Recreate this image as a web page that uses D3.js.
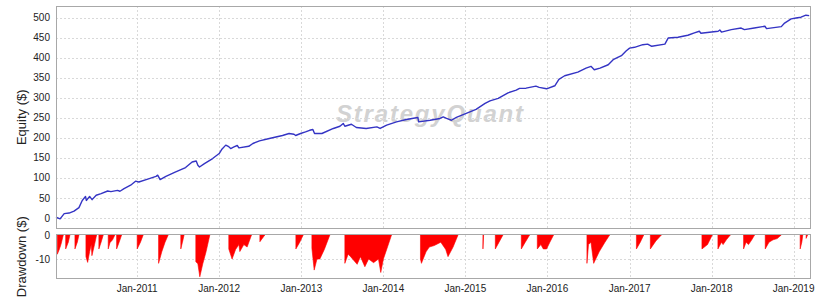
<!DOCTYPE html>
<html>
<head>
<meta charset="utf-8">
<script src="https://cdn.jsdelivr.net/npm/d3@7"></script>
<style>
  html, body { margin: 0; padding: 0; background: #fff; }
  svg { display: block; font-family: 'Liberation Sans', Arial, sans-serif; }
</style>
</head>
<body>
<div id="chart"></div>
<script>
// Equity curve (decimal year, $)
const equityT = [2010.01, 2010.06, 2010.11, 2010.17, 2010.23, 2010.29, 2010.33, 2010.37, 2010.38, 2010.42,
  2010.45, 2010.50, 2010.56, 2010.64, 2010.68, 2010.76, 2010.79, 2010.84, 2010.92, 2010.98,
  2011.02, 2011.11, 2011.23, 2011.25, 2011.28, 2011.35, 2011.47, 2011.59, 2011.67, 2011.72,
  2011.74, 2011.76, 2011.82, 2011.92, 2012.00, 2012.03, 2012.08, 2012.11, 2012.14, 2012.18,
  2012.22, 2012.24, 2012.36, 2012.41, 2012.49, 2012.61, 2012.77, 2012.85, 2012.91, 2012.93,
  2012.99, 2013.05, 2013.10, 2013.14, 2013.16, 2013.25, 2013.39, 2013.47, 2013.51, 2013.53,
  2013.61, 2013.67, 2013.79, 2013.92, 2013.96, 2014.04, 2014.16, 2014.28, 2014.42, 2014.43,
  2014.57, 2014.69, 2014.73, 2014.77, 2014.83, 2014.89, 2015.01, 2015.13, 2015.24, 2015.30,
  2015.40, 2015.52, 2015.62, 2015.66, 2015.74, 2015.86, 2015.90, 2015.99, 2016.09, 2016.14,
  2016.21, 2016.37, 2016.47, 2016.53, 2016.57, 2016.64, 2016.74, 2016.80, 2016.90, 2016.96,
  2017.00, 2017.06, 2017.16, 2017.22, 2017.27, 2017.43, 2017.47, 2017.59, 2017.71, 2017.79,
  2017.85, 2017.87, 2018.00, 2018.08, 2018.10, 2018.12, 2018.24, 2018.36, 2018.40, 2018.52,
  2018.65, 2018.67, 2018.85, 2018.89, 2018.97, 2019.03, 2019.09, 2019.15, 2019.19];
const equityV = [2, -2, 11, 12.5, 17.5, 26, 44, 54, 44, 54,
  46, 57, 61, 67.5, 66, 69, 67, 73.5, 82, 92,
  90, 96, 104, 107, 96, 104, 115, 126, 140, 142.5,
  132, 127.5, 136, 148.5, 161, 171, 182, 179, 173.5, 177.5,
  181, 175, 179, 186, 192.5, 198.5, 206, 211, 209, 206,
  211, 215, 219, 221, 211, 211, 223.5, 229, 236, 229,
  234, 226, 223.5, 227.5, 223.5, 232, 240, 246, 251, 240,
  244, 248.5, 252.5, 248.5, 244, 251, 261, 271, 286, 292.5,
  298.5, 312.5, 319, 323.5, 324, 329, 326, 322.5, 330, 346,
  355, 364, 374, 378.5, 370, 374, 382.5, 395, 405, 417.5,
  424, 426, 432.5, 434, 428.5, 434, 449, 451, 456, 462,
  466, 461, 464, 466, 469, 464, 470, 474, 470, 474,
  478.5, 472.5, 477.5, 486.5, 497, 499, 501, 506, 505];

// Drawdown periods: [decimal year, drawdown $]
const drawdowns = [
  [[2010.026, -8], [2010.05, -6], [2010.07, -4], [2010.099, 0]],
  [[2010.128, -5.8], [2010.16, -3], [2010.18, 0]],
  [[2010.241, -5.8], [2010.27, -3], [2010.29, 0]],
  [[2010.375, -9], [2010.396, -11.4], [2010.42, -7], [2010.44, -4], [2010.448, -8.6], [2010.48, -4], [2010.505, 0]],
  [[2010.533, -5.8], [2010.56, -3], [2010.586, 0]],
  [[2010.647, -5.8], [2010.67, -3], [2010.68, -2.8], [2010.70, -2], [2010.728, 0]],
  [[2010.749, -5.8], [2010.78, -3], [2010.81, 0]],
  [[2011.00, -5.8], [2011.04, -3], [2011.073, 0]],
  [[2011.261, -11.8], [2011.30, -7], [2011.34, -3], [2011.378, 0]],
  [[2011.532, -5.8], [2011.552, -3], [2011.572, 0]],
  [[2011.715, -11.1], [2011.74, -12], [2011.764, -17.4], [2011.80, -12], [2011.84, -7], [2011.886, 0]],
  [[2012.117, -5.8], [2012.157, -10], [2012.20, -6], [2012.24, -4], [2012.251, -6.9], [2012.30, -4], [2012.34, -5], [2012.393, 0]],
  [[2012.495, -2.8], [2012.555, 0]],
  [[2012.933, -5.8], [2012.98, -3], [2013.022, 0]],
  [[2013.128, -5.5], [2013.156, -14.6], [2013.19, -10], [2013.225, -10], [2013.28, -6], [2013.347, 0]],
  [[2013.530, -11.8], [2013.57, -8], [2013.60, -9], [2013.68, -12.2], [2013.72, -9], [2013.774, -13.2], [2013.82, -10],
   [2013.88, -11.5], [2013.94, -10], [2013.968, -15.6], [2014.00, -10], [2014.05, -5], [2014.099, 0]],
  [[2014.452, -10], [2014.464, -11.8], [2014.52, -7], [2014.56, -5], [2014.62, -4.4], [2014.70, -3], [2014.76, -6],
   [2014.788, -9], [2014.85, -5], [2014.910, 0]],
  [[2015.214, -5.8], [2015.222, 0]],
  [[2015.365, -5.8], [2015.41, -3], [2015.458, 0]],
  [[2015.682, -5.8], [2015.73, -3], [2015.783, 0]],
  [[2015.877, -5.8], [2015.92, -4], [2015.95, -5.8], [2015.99, -5.8], [2016.03, -3], [2016.075, 0]],
  [[2016.481, -11.8], [2016.50, -4], [2016.53, -3], [2016.563, -11.8], [2016.63, -7], [2016.70, -3], [2016.757, 0]],
  [[2017.083, -5.8], [2017.13, -3], [2017.172, 0]],
  [[2017.253, -5.8], [2017.32, -2.5], [2017.387, 0]],
  [[2017.882, -5.8], [2017.95, -4], [2018.008, 0]],
  [[2018.077, -5.8], [2018.12, -3], [2018.14, -4], [2018.18, -2], [2018.228, 0]],
  [[2018.390, -5.8], [2018.42, -3], [2018.45, -4], [2018.49, -2], [2018.524, 0]],
  [[2018.654, -5.8], [2018.70, -3], [2018.75, -2], [2018.80, -1.5], [2018.849, 0]],
  [[2019.080, -5.8], [2019.10, -3], [2019.112, 0]],
  [[2019.153, -1.4], [2019.17, 0]]
];

const equityTicks = [0, 50, 100, 150, 200, 250, 300, 350, 400, 450, 500];
const drawdownTicks = [0, -10];
const yearTicks = [2011, 2012, 2013, 2014, 2015, 2016, 2017, 2018, 2019];
const timeRange = [2010.01, 2019.206];

// decimal year -> Date
function dec(t) {
    const y = Math.floor(t);
    const a = new Date(y, 0, 1), b = new Date(y + 1, 0, 1);
    return new Date(+a + (t - y) * (b - a));
}

const W = 818, H = 300;
const left = 56, right = 810.5;
const top1 = 6, bot1 = 228.5;
const top2 = 235, bot2 = 278.5;

const svg = d3.select('#chart').append('svg')
    .attr('width', W).attr('height', H);

const x = d3.scaleTime().domain(timeRange.map(dec)).range([left, right]);
const y = d3.scaleLinear().domain([-26, 529]).range([bot1, top1]);
const yd = d3.scaleLinear().domain([-18.1, 0]).range([bot2, top2]);

const gridColor = '#d9d9d9';

// watermark
svg.append('text')
    .attr('x', 336).attr('y', 122)
    .attr('font-size', 24)
    .attr('font-weight', 'bold')
    .attr('font-style', 'italic')
    .attr('fill', '#d2d2d2')
    .attr('textLength', 187)
    .attr('lengthAdjust', 'spacing')
    .text('StrategyQuant');

// grids - equity
const g1 = svg.append('g');
g1.selectAll('.hy').data(equityTicks).enter().append('line')
    .attr('x1', left).attr('x2', right)
    .attr('y1', d => Math.round(y(d)) + 0.5).attr('y2', d => Math.round(y(d)) + 0.5)
    .attr('stroke', gridColor).attr('stroke-dasharray', '2,2');
g1.selectAll('.vx').data(yearTicks).enter().append('line')
    .attr('x1', d => Math.round(x(dec(d))) + 0.5).attr('x2', d => Math.round(x(dec(d))) + 0.5)
    .attr('y1', top1).attr('y2', bot1)
    .attr('stroke', gridColor).attr('stroke-dasharray', '2,2');

// grids - drawdown
const g2 = svg.append('g');
g2.selectAll('.hy').data(drawdownTicks.filter(d => d !== 0)).enter().append('line')
    .attr('x1', left).attr('x2', right)
    .attr('y1', d => Math.round(yd(d)) + 0.5).attr('y2', d => Math.round(yd(d)) + 0.5)
    .attr('stroke', gridColor).attr('stroke-dasharray', '2,2');
g2.selectAll('.vx').data(yearTicks).enter().append('line')
    .attr('x1', d => Math.round(x(dec(d))) + 0.5).attr('x2', d => Math.round(x(dec(d))) + 0.5)
    .attr('y1', top2).attr('y2', bot2)
    .attr('stroke', gridColor).attr('stroke-dasharray', '2,2');

// equity line
const eq = equityT.map((t, i) => [dec(t), equityV[i]]);
svg.append('path')
    .datum(eq)
    .attr('d', d3.line().x(d => x(d[0])).y(d => y(d[1])))
    .attr('fill', 'none')
    .attr('stroke', '#3434c4')
    .attr('stroke-width', 1.4)
    .attr('stroke-linejoin', 'round');

// drawdown areas
const area = d3.area()
    .x(d => x(dec(d[0])))
    .y0(yd(0))
    .y1(d => yd(d[1]));
svg.append('g').selectAll('path').data(drawdowns).enter().append('path')
    .attr('d', area)
    .attr('fill', '#ff0000')
    .attr('stroke', '#ff0000')
    .attr('stroke-width', 0.6);

// frames
svg.append('rect')
    .attr('x', left + 0.5).attr('y', top1 + 0.5)
    .attr('width', right - left - 0.5).attr('height', bot1 - top1 - 0.5)
    .attr('fill', 'none').attr('stroke', '#a8a8a8');
svg.append('rect')
    .attr('x', left + 0.5).attr('y', top2 - 0.5)
    .attr('width', right - left - 0.5).attr('height', bot2 - top2 + 0.5)
    .attr('fill', 'none').attr('stroke', '#a8a8a8');

// tick labels
svg.append('g').selectAll('text').data(equityTicks).enter().append('text')
    .attr('x', 50).attr('y', d => y(d))
    .attr('dy', '0.35em')
    .attr('text-anchor', 'end')
    .attr('font-size', 10)
    .attr('fill', '#222')
    .text(d => d);
svg.append('g').selectAll('text').data(drawdownTicks).enter().append('text')
    .attr('x', 50).attr('y', d => yd(d))
    .attr('dy', '0.35em')
    .attr('text-anchor', 'end')
    .attr('font-size', 10)
    .attr('fill', '#222')
    .text(d => d);
const fmt = d3.timeFormat('%b-%Y');
svg.append('g').selectAll('text').data(yearTicks).enter().append('text')
    .attr('x', d => x(dec(d)))
    .attr('y', 292)
    .attr('text-anchor', 'middle')
    .attr('font-size', 10)
    .attr('fill', '#222')
    .text(d => fmt(dec(d)));

// axis titles
svg.append('text')
    .attr('transform', `translate(26, ${(top1 + bot1) / 2}) rotate(-90)`)
    .attr('text-anchor', 'middle')
    .attr('font-size', 13)
    .attr('fill', '#222')
    .text('Equity ($)');
svg.append('text')
    .attr('transform', `translate(26, ${(top2 + bot2) / 2}) rotate(-90)`)
    .attr('text-anchor', 'middle')
    .attr('font-size', 13)
    .attr('fill', '#222')
    .text('Drawdown ($)');
</script>
</body>
</html>
